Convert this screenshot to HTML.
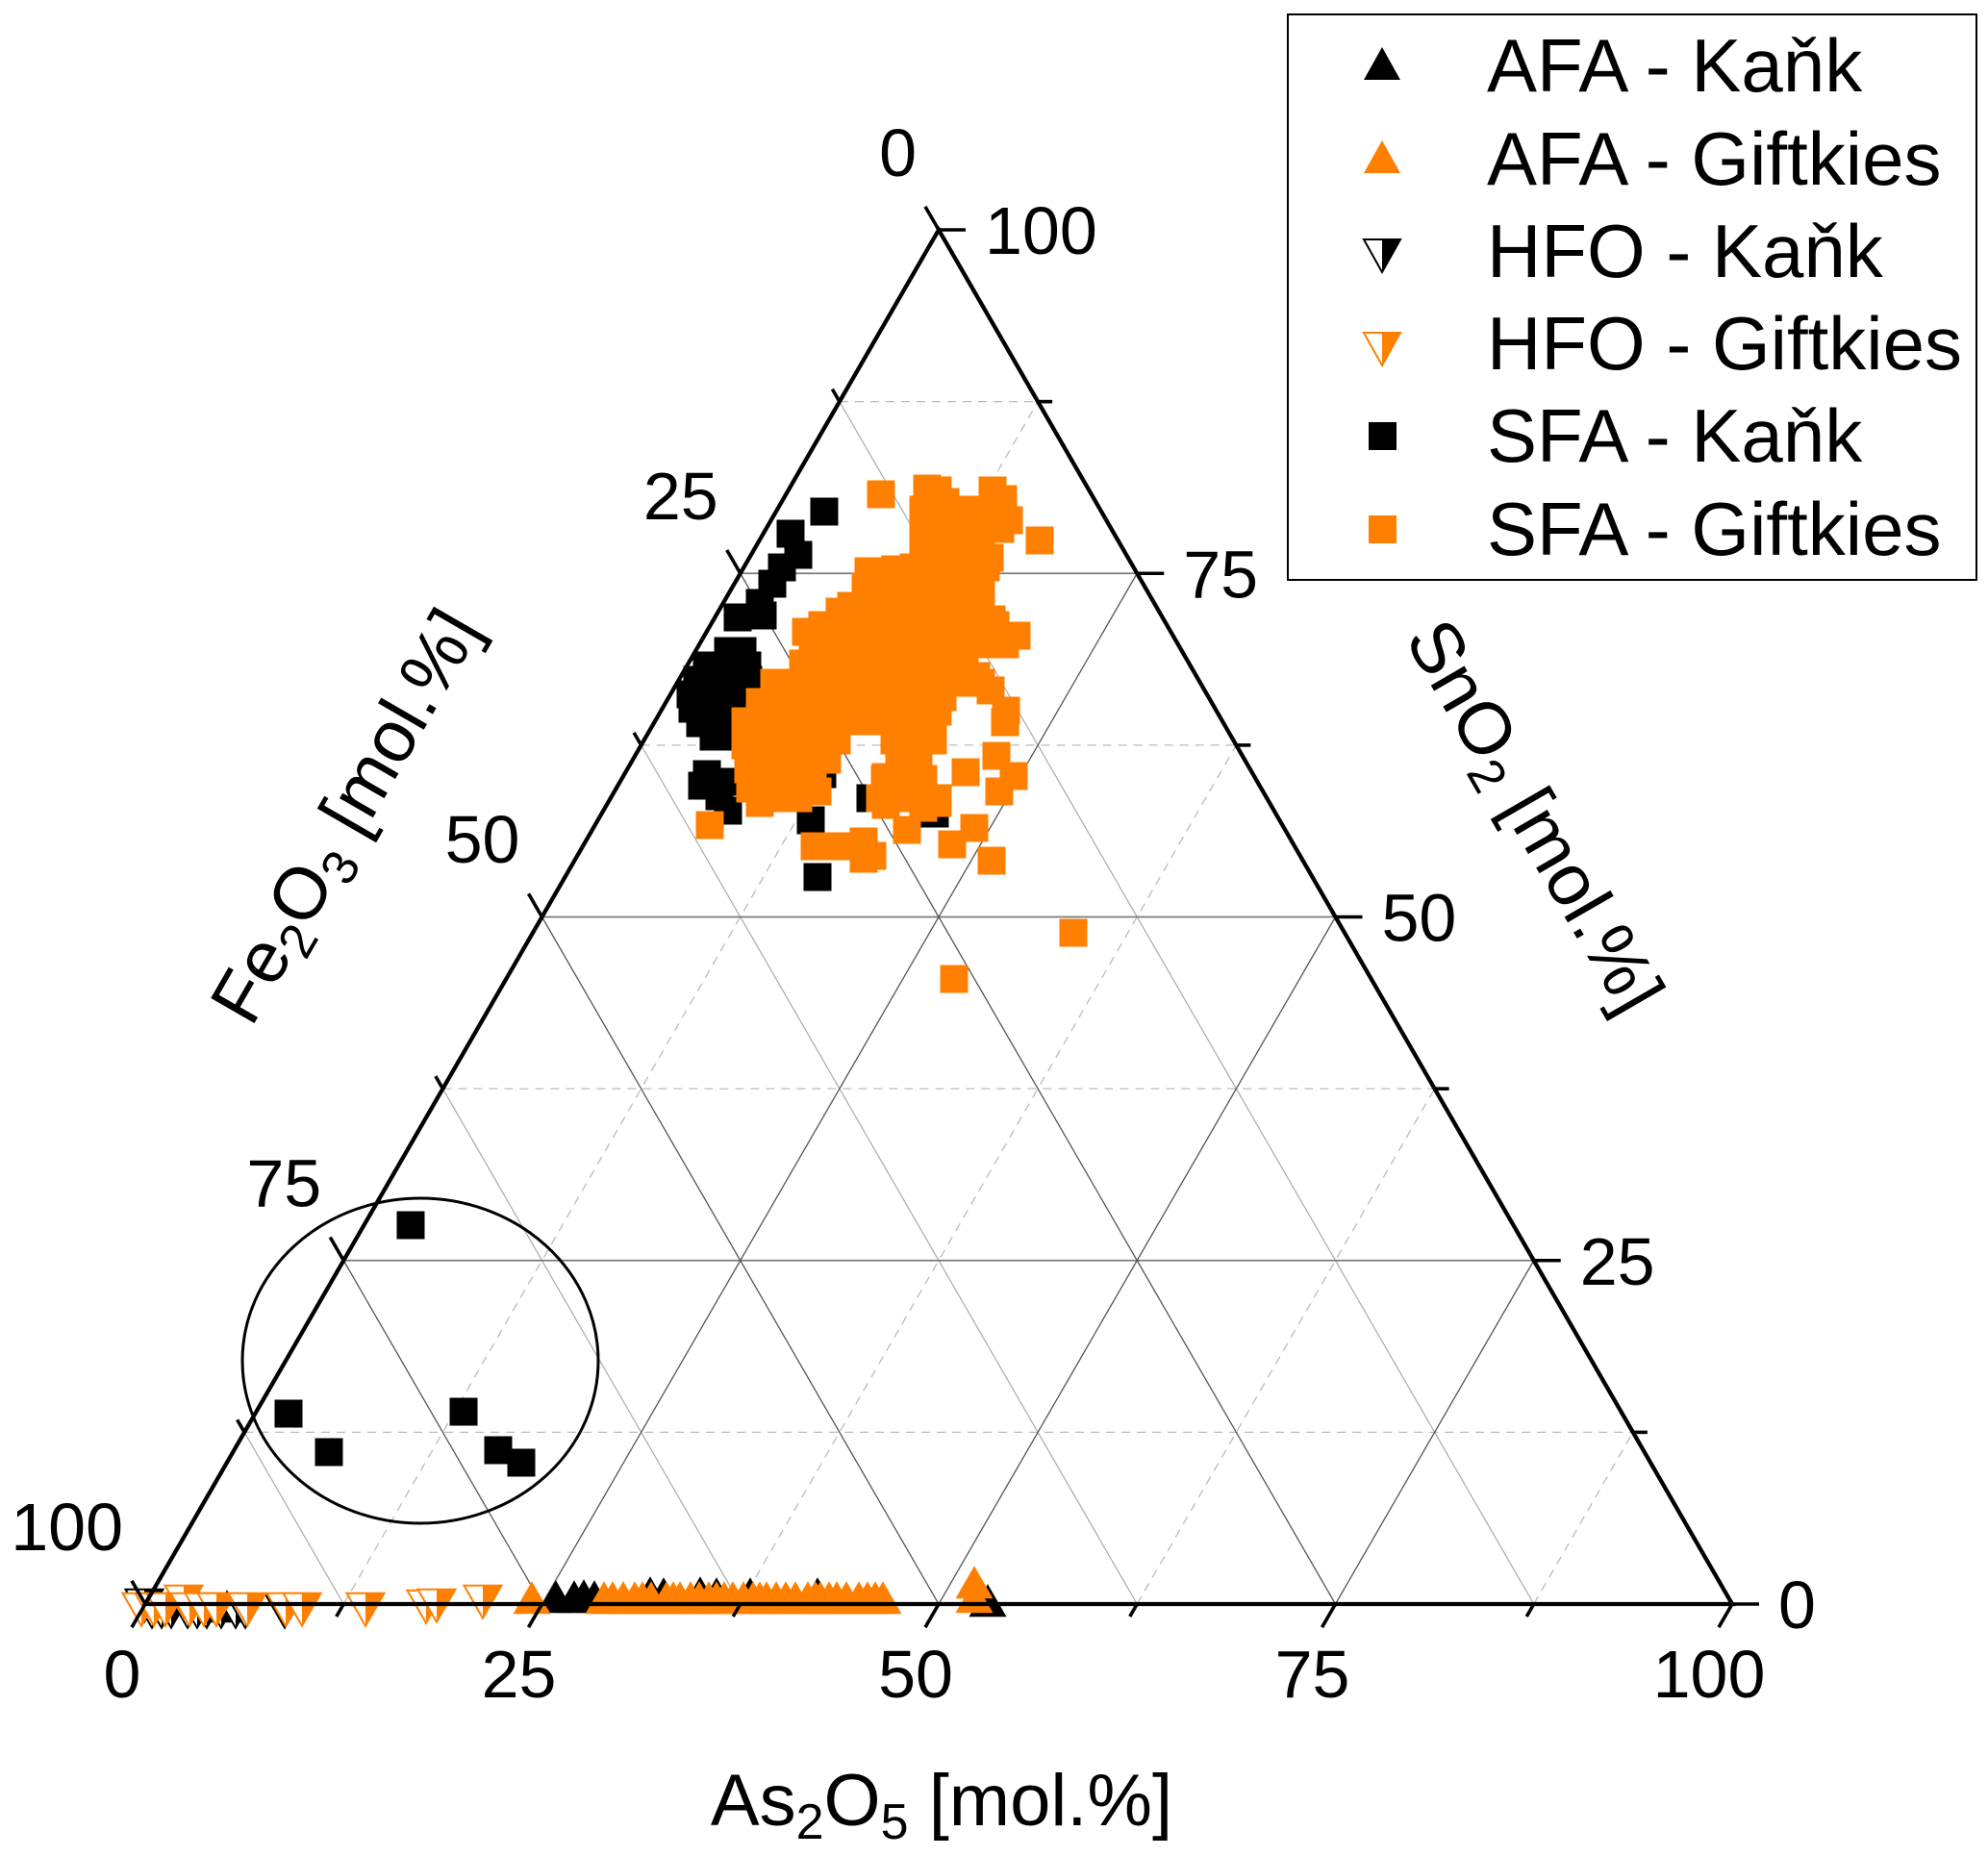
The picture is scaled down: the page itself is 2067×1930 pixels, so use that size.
<!DOCTYPE html>
<html><head><meta charset="utf-8"><style>
html,body{margin:0;padding:0;background:#fff;}
svg{display:block;}
text{font-family:"Liberation Sans",Arial,sans-serif;fill:#000;}
</style></head><body>
<svg width="2067" height="1930" viewBox="0 0 2067 1930" xmlns="http://www.w3.org/2000/svg">
<defs>
<rect id="s" x="-14.5" y="-14.5" width="29" height="29"/>
<g id="ak"><polygon points="-19.5,11.3 19.5,11.3 0,-22.7" fill="#000"/></g>
<g id="ag"><polygon points="-19.5,11.3 19.5,11.3 0,-22.7" fill="#ff8000"/></g>
<g id="hk"><polygon points="-19.5,-11.3 19.5,-11.3 0,22.7" fill="#fff" stroke="#000" stroke-width="2"/><polygon points="0,-11.3 19.5,-11.3 0,22.7" fill="#000"/></g>
<g id="hg"><polygon points="-19.5,-11.3 19.5,-11.3 0,22.7" fill="#fff" stroke="#ff8000" stroke-width="2"/><polygon points="0,-11.3 19.5,-11.3 0,22.7" fill="#ff8000"/></g>
</defs>
<rect width="2067" height="1930" fill="#fff"/>

<g stroke="#bbb" stroke-width="1.3" stroke-dasharray="9,7" fill="none">
<line x1="254.125" y1="1489.375" x2="1697.875" y2="1489.375"/>
<line x1="460.375" y1="1132.125" x2="1491.625" y2="1132.125"/>
<line x1="666.625" y1="774.875" x2="1285.375" y2="774.875"/>
<line x1="872.875" y1="417.625" x2="1079.125" y2="417.625"/>
<line x1="357.25" y1="1668" x2="1079.125" y2="417.625"/>
<line x1="769.75" y1="1668" x2="1285.375" y2="774.875"/>
<line x1="1182.25" y1="1668" x2="1491.625" y2="1132.125"/>
<line x1="1594.75" y1="1668" x2="1697.875" y2="1489.375"/>
</g>
<g stroke="#aaa" stroke-width="1.2" fill="none">
<line x1="1594.75" y1="1668" x2="872.875" y2="417.625"/>
<line x1="1182.25" y1="1668" x2="666.625" y2="774.875"/>
<line x1="769.75" y1="1668" x2="460.375" y2="1132.125"/>
<line x1="357.25" y1="1668" x2="254.125" y2="1489.375"/>
</g>
<g stroke="#7a7a7a" stroke-width="1.7" fill="none">
<line x1="357.25" y1="1310.75" x2="1594.75" y2="1310.75"/>
<line x1="563.5" y1="953.5" x2="1388.5" y2="953.5"/>
<line x1="769.75" y1="596.25" x2="1182.25" y2="596.25"/>
</g>
<g stroke="#555" stroke-width="1.3" fill="none">
<line x1="563.5" y1="1668" x2="1182.25" y2="596.25"/>
<line x1="976" y1="1668" x2="1388.5" y2="953.5"/>
<line x1="1388.5" y1="1668" x2="1594.75" y2="1310.75"/>
<line x1="1388.5" y1="1668" x2="769.75" y2="596.25"/>
<line x1="976" y1="1668" x2="563.5" y2="953.5"/>
<line x1="563.5" y1="1668" x2="357.25" y2="1310.75"/>
</g>

<g>
<use href="#ak" x="236" y="1676"/>
<use href="#ak" x="578" y="1666"/><use href="#ak" x="597" y="1666"/><use href="#ak" x="607" y="1665"/><use href="#ak" x="618" y="1666"/>
<use href="#ak" x="676" y="1662"/><use href="#ak" x="690" y="1663"/><use href="#ak" x="728" y="1662"/><use href="#ak" x="745" y="1663"/><use href="#ak" x="780" y="1663"/><use href="#ak" x="850" y="1663"/>
<use href="#ak" x="1027" y="1670"/>
</g>
<g>
<use href="#ag" x="553" y="1667"/>
<use href="#ag" x="628" y="1667"/><use href="#ag" x="637" y="1667"/><use href="#ag" x="648" y="1667"/><use href="#ag" x="660" y="1667"/><use href="#ag" x="668" y="1667"/><use href="#ag" x="677" y="1667"/><use href="#ag" x="693" y="1667"/><use href="#ag" x="700" y="1667"/><use href="#ag" x="707" y="1667"/><use href="#ag" x="718" y="1667"/><use href="#ag" x="727" y="1667"/><use href="#ag" x="737" y="1667"/><use href="#ag" x="745" y="1667"/><use href="#ag" x="753" y="1667"/><use href="#ag" x="762" y="1667"/><use href="#ag" x="773" y="1667"/><use href="#ag" x="783" y="1667"/><use href="#ag" x="790" y="1667"/><use href="#ag" x="797" y="1667"/><use href="#ag" x="807" y="1667"/><use href="#ag" x="817" y="1667"/><use href="#ag" x="827" y="1667"/><use href="#ag" x="840" y="1667"/><use href="#ag" x="848" y="1667"/><use href="#ag" x="853" y="1667"/><use href="#ag" x="862" y="1667"/><use href="#ag" x="870" y="1667"/><use href="#ag" x="880" y="1667"/><use href="#ag" x="893" y="1667"/><use href="#ag" x="902" y="1667"/><use href="#ag" x="910" y="1667"/><use href="#ag" x="918" y="1667"/>
<use href="#ag" x="1013" y="1651"/><use href="#ag" x="1013" y="1666"/>
</g>
<g>
<use href="#hk" x="150" y="1664"/><use href="#hk" x="158" y="1670"/><use href="#hk" x="168" y="1670"/><use href="#hk" x="178" y="1670"/><use href="#hk" x="195" y="1670"/><use href="#hk" x="205" y="1670"/><use href="#hk" x="215" y="1670"/><use href="#hk" x="230" y="1670"/><use href="#hk" x="245" y="1670"/><use href="#hk" x="255" y="1670"/><use href="#hk" x="296" y="1670"/>
</g>
<g>
<use href="#hg" x="147" y="1668"/><use href="#hg" x="160" y="1668"/><use href="#hg" x="172" y="1668"/><use href="#hg" x="191" y="1660"/><use href="#hg" x="197" y="1668"/><use href="#hg" x="212" y="1668"/><use href="#hg" x="225" y="1668"/><use href="#hg" x="257" y="1668"/><use href="#hg" x="297" y="1668"/><use href="#hg" x="314" y="1668"/><use href="#hg" x="380" y="1668"/><use href="#hg" x="443" y="1665"/><use href="#hg" x="454" y="1664"/><use href="#hg" x="502" y="1660"/>
</g>
<g fill="#000">
<use href="#s" x="857" y="532"/><use href="#s" x="822" y="555"/><use href="#s" x="830" y="577"/><use href="#s" x="813" y="590"/><use href="#s" x="803" y="607"/><use href="#s" x="790" y="627"/><use href="#s" x="767" y="642"/><use href="#s" x="793" y="640"/>
<use href="#s" x="757" y="677"/><use href="#s" x="772" y="677"/>
<use href="#s" x="735" y="692"/><use href="#s" x="750" y="692"/><use href="#s" x="765" y="692"/><use href="#s" x="777" y="692"/>
<use href="#s" x="725" y="707"/><use href="#s" x="740" y="707"/><use href="#s" x="755" y="707"/><use href="#s" x="770" y="707"/><use href="#s" x="778" y="707"/>
<use href="#s" x="718" y="722"/><use href="#s" x="733" y="722"/><use href="#s" x="748" y="722"/><use href="#s" x="763" y="722"/><use href="#s" x="777" y="722"/>
<use href="#s" x="720" y="737"/><use href="#s" x="735" y="737"/><use href="#s" x="750" y="737"/><use href="#s" x="765" y="737"/>
<use href="#s" x="728" y="752"/><use href="#s" x="745" y="752"/><use href="#s" x="760" y="752"/>
<use href="#s" x="742" y="766"/><use href="#s" x="756" y="766"/>
<use href="#s" x="735" y="805"/><use href="#s" x="730" y="817"/><use href="#s" x="763" y="813"/><use href="#s" x="748" y="828"/><use href="#s" x="757" y="843"/>
<use href="#s" x="843" y="853"/><use href="#s" x="850" y="912"/><use href="#s" x="905" y="830"/><use href="#s" x="972" y="846"/><use href="#s" x="855" y="805"/>
<use href="#s" x="940" y="620"/><use href="#s" x="888" y="633"/><use href="#s" x="838" y="718"/>
<use href="#s" x="427" y="1274"/><use href="#s" x="300" y="1470"/><use href="#s" x="342" y="1510"/><use href="#s" x="482" y="1468"/><use href="#s" x="518" y="1508"/><use href="#s" x="542" y="1521"/>
</g>
<g fill="#ff8000">
<use href="#s" x="916" y="514"/><use href="#s" x="964" y="508"/><use href="#s" x="983" y="522"/><use href="#s" x="1005" y="537"/><use href="#s" x="1043" y="519"/><use href="#s" x="1049" y="541"/><use href="#s" x="1081" y="562"/><use href="#s" x="1030" y="545"/><use href="#s" x="985" y="545"/><use href="#s" x="961" y="554"/><use href="#s" x="1000" y="560"/><use href="#s" x="1020" y="565"/><use href="#s" x="1029" y="580"/><use href="#s" x="975" y="575"/><use href="#s" x="995" y="585"/><use href="#s" x="1010" y="600"/><use href="#s" x="968" y="600"/><use href="#s" x="985" y="615"/><use href="#s" x="1005" y="620"/><use href="#s" x="1020" y="610"/>
<use href="#s" x="903" y="594"/><use href="#s" x="931" y="592"/><use href="#s" x="920" y="620"/><use href="#s" x="1013" y="630"/><use href="#s" x="1031" y="644"/><use href="#s" x="1057" y="661"/><use href="#s" x="1000" y="645"/><use href="#s" x="985" y="650"/><use href="#s" x="965" y="650"/><use href="#s" x="945" y="640"/><use href="#s" x="950" y="660"/><use href="#s" x="930" y="650"/><use href="#s" x="915" y="640"/><use href="#s" x="895" y="640"/><use href="#s" x="873" y="636"/><use href="#s" x="838" y="657"/>
<use href="#s" x="860" y="665"/><use href="#s" x="880" y="665"/><use href="#s" x="905" y="665"/><use href="#s" x="925" y="670"/><use href="#s" x="945" y="675"/><use href="#s" x="965" y="680"/><use href="#s" x="985" y="685"/><use href="#s" x="1003" y="690"/><use href="#s" x="1015" y="703"/><use href="#s" x="1030" y="718"/><use href="#s" x="1046" y="739"/><use href="#s" x="1045" y="751"/>
<use href="#s" x="975" y="740"/><use href="#s" x="980" y="725"/><use href="#s" x="960" y="720"/><use href="#s" x="940" y="715"/><use href="#s" x="920" y="705"/><use href="#s" x="900" y="700"/><use href="#s" x="880" y="700"/><use href="#s" x="860" y="700"/><use href="#s" x="840" y="705"/><use href="#s" x="820" y="710"/><use href="#s" x="808" y="725"/><use href="#s" x="795" y="740"/><use href="#s" x="776" y="750"/><use href="#s" x="775" y="775"/><use href="#s" x="778" y="800"/><use href="#s" x="790" y="785"/><use href="#s" x="810" y="765"/><use href="#s" x="830" y="760"/><use href="#s" x="850" y="750"/><use href="#s" x="870" y="745"/><use href="#s" x="890" y="745"/><use href="#s" x="910" y="745"/><use href="#s" x="930" y="750"/><use href="#s" x="950" y="750"/><use href="#s" x="970" y="745"/>
<use href="#s" x="940" y="775"/><use href="#s" x="960" y="770"/><use href="#s" x="970" y="765"/>
<use href="#s" x="800" y="805"/><use href="#s" x="820" y="800"/><use href="#s" x="840" y="795"/><use href="#s" x="860" y="790"/><use href="#s" x="780" y="820"/><use href="#s" x="790" y="835"/><use href="#s" x="810" y="825"/><use href="#s" x="830" y="825"/><use href="#s" x="850" y="823"/><use href="#s" x="738" y="858"/>
<use href="#s" x="921" y="808"/><use href="#s" x="921" y="837"/><use href="#s" x="945" y="830"/><use href="#s" x="960" y="840"/><use href="#s" x="950" y="800"/><use href="#s" x="975" y="835"/><use href="#s" x="1004" y="803"/><use href="#s" x="1036" y="786"/><use href="#s" x="1054" y="807"/><use href="#s" x="1039" y="823"/><use href="#s" x="1013" y="861"/><use href="#s" x="990" y="878"/><use href="#s" x="1031" y="895"/><use href="#s" x="943" y="863"/>
<use href="#s" x="847" y="880"/><use href="#s" x="872" y="880"/><use href="#s" x="898" y="875"/><use href="#s" x="907" y="890"/><use href="#s" x="898" y="893"/>
<use href="#s" x="1116" y="970"/><use href="#s" x="992" y="1018"/>
<use href="#s" x="975" y="510"/><use href="#s" x="1032" y="510"/>
<use href="#s" x="960" y="530"/><use href="#s" x="980" y="530"/><use href="#s" x="1000" y="530"/><use href="#s" x="1020" y="530"/><use href="#s" x="1040" y="530"/>
<use href="#s" x="960" y="550"/><use href="#s" x="980" y="550"/><use href="#s" x="1000" y="550"/><use href="#s" x="1020" y="550"/><use href="#s" x="1040" y="550"/>
<use href="#s" x="960" y="570"/><use href="#s" x="980" y="570"/><use href="#s" x="1000" y="570"/><use href="#s" x="1020" y="570"/>
<use href="#s" x="950" y="590"/><use href="#s" x="970" y="590"/><use href="#s" x="990" y="590"/><use href="#s" x="1010" y="590"/><use href="#s" x="1025" y="590"/>
<use href="#s" x="900" y="610"/><use href="#s" x="920" y="610"/><use href="#s" x="940" y="610"/><use href="#s" x="960" y="610"/><use href="#s" x="980" y="610"/><use href="#s" x="1000" y="610"/><use href="#s" x="1015" y="610"/>
<use href="#s" x="885" y="630"/><use href="#s" x="905" y="630"/><use href="#s" x="925" y="630"/><use href="#s" x="945" y="630"/><use href="#s" x="965" y="630"/><use href="#s" x="985" y="630"/><use href="#s" x="1005" y="630"/><use href="#s" x="1020" y="630"/>
<use href="#s" x="855" y="650"/><use href="#s" x="875" y="650"/><use href="#s" x="895" y="650"/><use href="#s" x="915" y="650"/><use href="#s" x="935" y="650"/><use href="#s" x="955" y="650"/><use href="#s" x="975" y="650"/><use href="#s" x="995" y="650"/><use href="#s" x="1015" y="650"/><use href="#s" x="1035" y="650"/>
<use href="#s" x="845" y="670"/><use href="#s" x="865" y="670"/><use href="#s" x="885" y="670"/><use href="#s" x="905" y="670"/><use href="#s" x="925" y="670"/><use href="#s" x="945" y="670"/><use href="#s" x="965" y="670"/><use href="#s" x="985" y="670"/><use href="#s" x="1005" y="670"/><use href="#s" x="1025" y="670"/><use href="#s" x="1045" y="670"/>
<use href="#s" x="835" y="690"/><use href="#s" x="855" y="690"/><use href="#s" x="875" y="690"/><use href="#s" x="895" y="690"/><use href="#s" x="915" y="690"/><use href="#s" x="935" y="690"/><use href="#s" x="955" y="690"/><use href="#s" x="975" y="690"/><use href="#s" x="995" y="690"/>
<use href="#s" x="805" y="710"/><use href="#s" x="825" y="710"/><use href="#s" x="845" y="710"/><use href="#s" x="865" y="710"/><use href="#s" x="885" y="710"/><use href="#s" x="905" y="710"/><use href="#s" x="925" y="710"/><use href="#s" x="945" y="710"/><use href="#s" x="965" y="710"/><use href="#s" x="985" y="710"/><use href="#s" x="1005" y="710"/><use href="#s" x="1020" y="710"/>
<use href="#s" x="790" y="730"/><use href="#s" x="810" y="730"/><use href="#s" x="830" y="730"/><use href="#s" x="850" y="730"/><use href="#s" x="870" y="730"/><use href="#s" x="890" y="730"/><use href="#s" x="910" y="730"/><use href="#s" x="930" y="730"/><use href="#s" x="950" y="730"/><use href="#s" x="970" y="730"/>
<use href="#s" x="775" y="750"/><use href="#s" x="795" y="750"/><use href="#s" x="815" y="750"/><use href="#s" x="835" y="750"/><use href="#s" x="855" y="750"/><use href="#s" x="875" y="750"/><use href="#s" x="895" y="750"/><use href="#s" x="915" y="750"/><use href="#s" x="935" y="750"/><use href="#s" x="955" y="750"/><use href="#s" x="970" y="750"/>
<use href="#s" x="775" y="770"/><use href="#s" x="795" y="770"/><use href="#s" x="815" y="770"/><use href="#s" x="835" y="770"/><use href="#s" x="855" y="770"/><use href="#s" x="870" y="770"/><use href="#s" x="930" y="770"/><use href="#s" x="950" y="770"/><use href="#s" x="970" y="770"/>
<use href="#s" x="780" y="790"/><use href="#s" x="800" y="790"/><use href="#s" x="820" y="790"/><use href="#s" x="840" y="790"/><use href="#s" x="860" y="790"/><use href="#s" x="935" y="790"/><use href="#s" x="955" y="790"/>
<use href="#s" x="785" y="810"/><use href="#s" x="805" y="810"/><use href="#s" x="825" y="810"/><use href="#s" x="845" y="810"/><use href="#s" x="920" y="810"/><use href="#s" x="940" y="810"/><use href="#s" x="960" y="810"/>
<use href="#s" x="790" y="830"/><use href="#s" x="810" y="830"/><use href="#s" x="830" y="830"/><use href="#s" x="915" y="830"/><use href="#s" x="935" y="830"/><use href="#s" x="955" y="830"/><use href="#s" x="975" y="830"/>
</g>

<polygon points="151,1668 976,239 1801,1668" fill="none" stroke="#000" stroke-width="4.3" stroke-linejoin="miter"/>
<g stroke="#000" stroke-width="3.6" stroke-linecap="butt">
<line x1="151" y1="1668" x2="137" y2="1692.2"/>
<line x1="357.25" y1="1668" x2="349.75" y2="1681"/>
<line x1="563.5" y1="1668" x2="549.5" y2="1692.2"/>
<line x1="769.75" y1="1668" x2="762.25" y2="1681"/>
<line x1="976" y1="1668" x2="962" y2="1692.2"/>
<line x1="1182.25" y1="1668" x2="1174.75" y2="1681"/>
<line x1="1388.5" y1="1668" x2="1374.5" y2="1692.2"/>
<line x1="1594.75" y1="1668" x2="1587.25" y2="1681"/>
<line x1="1801" y1="1668" x2="1787" y2="1692.2"/>
<line x1="1801" y1="1668" x2="1829" y2="1668"/>
<line x1="1697.875" y1="1489.375" x2="1712.875" y2="1489.375"/>
<line x1="1594.75" y1="1310.75" x2="1622.75" y2="1310.75"/>
<line x1="1491.625" y1="1132.125" x2="1506.625" y2="1132.125"/>
<line x1="1388.5" y1="953.5" x2="1416.5" y2="953.5"/>
<line x1="1285.375" y1="774.875" x2="1300.375" y2="774.875"/>
<line x1="1182.25" y1="596.25" x2="1210.25" y2="596.25"/>
<line x1="1079.125" y1="417.625" x2="1094.125" y2="417.625"/>
<line x1="976" y1="239" x2="1004" y2="239"/>
<line x1="976" y1="239" x2="962" y2="214.8"/>
<line x1="872.875" y1="417.625" x2="865.375" y2="404.6"/>
<line x1="769.75" y1="596.25" x2="755.75" y2="572"/>
<line x1="666.625" y1="774.875" x2="659.125" y2="761.9"/>
<line x1="563.5" y1="953.5" x2="549.5" y2="929.3"/>
<line x1="460.375" y1="1132.125" x2="452.875" y2="1119.1"/>
<line x1="357.25" y1="1310.75" x2="343.25" y2="1286.5"/>
<line x1="254.125" y1="1489.375" x2="246.625" y2="1476.4"/>
<line x1="151" y1="1668" x2="137" y2="1643.8"/>
</g>

<ellipse cx="437" cy="1415" rx="185" ry="169" fill="none" stroke="#000" stroke-width="3"/>

<g font-size="70">
<g text-anchor="middle">
<text x="127" y="1765">0</text>
<text x="539.5" y="1765">25</text>
<text x="952" y="1765">50</text>
<text x="1364.5" y="1765">75</text>
<text x="1777" y="1765">100</text>
</g>
<g text-anchor="start">
<text x="1849" y="1693">0</text>
<text x="1642.75" y="1335.75">25</text>
<text x="1436.5" y="978.5">50</text>
<text x="1230.25" y="621.25">75</text>
<text x="1024" y="264">100</text>
</g>
<g text-anchor="end">
<text x="953" y="183">0</text>
<text x="746.75" y="540">25</text>
<text x="540.5" y="897">50</text>
<text x="334.25" y="1254.5">75</text>
<text x="128" y="1612">100</text>
</g>
</g>

<text x="979" y="1898" font-size="76" text-anchor="middle">As<tspan font-size="52" dy="14">2</tspan><tspan dy="-14">O</tspan><tspan font-size="52" dy="14">5</tspan><tspan dy="-14"> [mol.%]</tspan></text>
<text transform="translate(358,848) rotate(-60)" x="0" y="27" font-size="76" text-anchor="middle">Fe<tspan font-size="52" dy="14">2</tspan><tspan dy="-14">O</tspan><tspan font-size="52" dy="14">3</tspan><tspan dy="-14"> [mol.%]</tspan></text>
<text transform="translate(1597,848) rotate(60)" x="0" y="27" font-size="76" text-anchor="middle">SnO<tspan font-size="52" dy="14">2</tspan><tspan dy="-14"> [mol.%]</tspan></text>

<rect x="1339" y="15" width="716" height="588" fill="#fff" stroke="#000" stroke-width="2"/>
<polygon points="1418,83 1456,83 1437,49" fill="#000"/>
<polygon points="1418,180 1456,180 1437,146" fill="#ff8000"/>
<polygon points="1418,249 1456,249 1437,283" fill="#fff" stroke="#000" stroke-width="2"/>
<polygon points="1437,249 1456,249 1437,283" fill="#000"/>
<polygon points="1418,346 1456,346 1437,380" fill="#fff" stroke="#ff8000" stroke-width="2"/>
<polygon points="1437,346 1456,346 1437,380" fill="#ff8000"/>
<rect x="1423" y="439" width="29" height="29" fill="#000"/>
<rect x="1423" y="536" width="29" height="29" fill="#ff8000"/>
<g font-size="78">
<text x="1546" y="95">AFA - Kaňk</text>
<text x="1546" y="192">AFA - Giftkies</text>
<text x="1546" y="288">HFO - Kaňk</text>
<text x="1546" y="384">HFO - Giftkies</text>
<text x="1546" y="480">SFA - Kaňk</text>
<text x="1546" y="577">SFA - Giftkies</text>
</g>
</svg>
</body></html>
